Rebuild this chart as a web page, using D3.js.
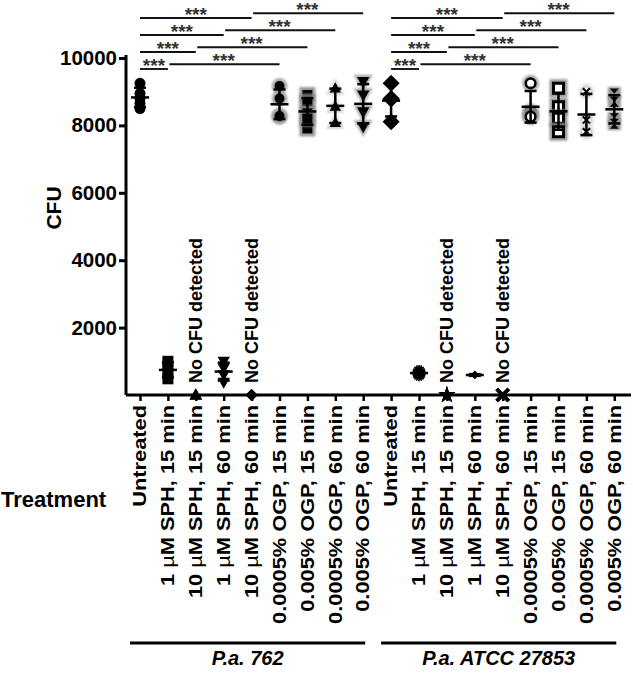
<!DOCTYPE html>
<html><head><meta charset="utf-8">
<script src="https://cdn.jsdelivr.net/npm/d3@7"></script>
<style>
html,body{margin:0;padding:0;background:#fff;}
svg{display:block;font-family:"Liberation Sans",Arial,sans-serif;}
</style></head>
<body><svg id="chart" width="633" height="673"></svg>
<script>
// ---------- data ----------
const groups = ["P.a. 762", "P.a. ATCC 27853"];
const treatments = ["Untreated", "1 µM SPH, 15 min", "10 µM SPH, 15 min", "1 µM SPH, 60 min", "10 µM SPH, 60 min",
  "0.0005% OGP, 15 min", "0.005% OGP, 15 min", "0.0005% OGP, 60 min", "0.005% OGP, 60 min"];
const pa762Values = [
  [9250, 8950, 8650, 8500, 8800],
  [1000, 850, 650, 480],
  [0, 0, 0],
  [1000, 800, 600, 380],
  [0, 0, 0],
  [9170, 8800, 8260, 8280],
  [8900, 8700, 8360, 7910, 8200],
  [9100, 8560, 8080],
  [9300, 8900, 8400, 7960]
];
const atccValues = [
  [9250, 8780, 8110, 8800],
  [700, 650, 600],
  [0, 0, 0],
  [620, 590, 570],
  [0, 0, 0],
  [9250, 8400, 8300, 8260],
  [9100, 8550, 8210, 7810],
  [9000, 8160, 7810],
  [8950, 8700, 8210, 8050]
];
const pa762Markers = ["circle", "square", "triUp", "triDown", "diamond", "circleHalo", "squareHalo", "triUpHalo", "triDownHalo"];
const atccMarkers = ["diamondBig", "asterisk", "star", "smallCross", "times", "openCircle", "openSquare", "circleX", "bowtie"];
const noCfuIdx = [2, 4];
const sigPairs = [[0, 1], [1, 5], [0, 2], [2, 6], [0, 3], [3, 7], [0, 4], [4, 8]];
const sigLabel = "***";
const yTicks = [2000, 4000, 6000, 8000, 10000];

// ---------- layout ----------
const svg = d3.select("#chart");
const font = '"Liberation Sans", Arial, sans-serif';
const nCat = treatments.length * groups.length;
const x = d3.scalePoint().domain(d3.range(nCat)).range([140, 614.3]);
const y = d3.scaleLinear().domain([0, 10000]).range([395, 58]);

const defs = svg.append("defs");
defs.append("filter").attr("id", "blur").attr("x", "-50%").attr("y", "-50%").attr("width", "200%").attr("height", "200%")
  .append("feGaussianBlur").attr("stdDeviation", 1.2);

// ---------- axes ----------
const yAxis = svg.append("g").attr("transform", "translate(126,0)")
  .call(d3.axisLeft(y).tickValues(yTicks).tickSize(7).tickFormat(d3.format("d")));
yAxis.select(".domain").attr("d", `M0,${y(10000) - 3}V${y(0)}`).attr("stroke", "#000").attr("stroke-width", 3);
yAxis.selectAll(".tick line").attr("stroke", "#000").attr("stroke-width", 3);
yAxis.selectAll(".tick text").attr("font-family", font).attr("font-size", 20.5).attr("font-weight", "bold")
  .attr("fill", "#000").attr("x", -9);

const xAxis = svg.append("g").attr("transform", `translate(0,${y(0)})`)
  .call(d3.axisBottom(x).tickSize(6).tickFormat(""));
xAxis.select(".domain").attr("d", "M126,0H631").attr("stroke", "#000").attr("stroke-width", 3);
xAxis.selectAll(".tick line").attr("stroke", "#000").attr("stroke-width", 2.5);

// x tick labels
const allLabels = groups.flatMap(() => treatments);
allLabels.forEach((lab, i) => {
  const t = svg.append("text")
    .attr("transform", `translate(${x(i)},405) rotate(-90) scale(1,0.8)`)
    .attr("text-anchor", "end").attr("dy", "0.36em")
    .attr("font-family", font).attr("font-size", 21.8).attr("font-weight", "bold");
  const parts = lab.split("µ");
  t.append("tspan").text(parts[0]);
  if (parts.length > 1) {
    t.append("tspan").attr("font-weight", "normal").text("µ");
    t.append("tspan").text(parts[1]);
  }
});

svg.append("text").attr("transform", "translate(53,208) rotate(-90)").attr("text-anchor", "middle")
  .attr("dy", "0.36em").attr("font-family", font).attr("font-size", 21).attr("font-weight", "bold").text("CFU");
svg.append("text").attr("x", 1).attr("y", 507).attr("font-family", font).attr("font-size", 22)
  .attr("font-weight", "bold").text("Treatment");

// group lines + labels
groups.forEach((g, gi) => {
  const i0 = gi * treatments.length, i1 = i0 + treatments.length - 1;
  const x0 = x(i0) - 10, x1 = x(i1) + 2;
  svg.append("line").attr("x1", x0).attr("x2", x1).attr("y1", 643).attr("y2", 643)
    .attr("stroke", "#000").attr("stroke-width", 3);
  svg.append("text").attr("x", (x0 + x1) / 2).attr("y", 665).attr("text-anchor", "middle")
    .attr("font-family", font).attr("font-size", 20).attr("font-weight", "bold").attr("font-style", "italic").text(g);
});

// ---------- marker shapes ----------
function poly(pts) { return "M" + pts.map(p => p.join(",")).join("L") + "Z"; }
function circ(r) { return `M${-r},0a${r},${r} 0 1,0 ${2 * r},0a${r},${r} 0 1,0 ${-2 * r},0Z`; }
function sq(h) { return `M${-h},${-h}H${h}V${h}H${-h}Z`; }
function triU(s) { return poly([[0, -s], [s * 0.95, s * 0.7], [-s * 0.95, s * 0.7]]); }
function triD(s) { return poly([[0, s], [s * 0.95, -s * 0.7], [-s * 0.95, -s * 0.7]]); }
function dia(s) { return poly([[0, -s], [s, 0], [0, s], [-s, 0]]); }

function drawMarker(g, type, cx, cy) {
  const m = g.append("g").attr("transform", `translate(${cx},${cy})`);
  const halo = (d, col, op) => m.append("path").attr("d", d).attr("fill", col).attr("stroke", col)
    .attr("stroke-width", 3).attr("opacity", op).attr("filter", "url(#blur)");
  switch (type) {
    case "circle": m.append("path").attr("d", circ(5.5)); break;
    case "square": m.append("path").attr("d", sq(5.5)); break;
    case "triUp": m.append("path").attr("d", triU(6.5)); break;
    case "triDown": m.append("path").attr("d", triD(6.5)); break;
    case "diamond": m.append("path").attr("d", dia(6)); break;
    case "circleHalo": halo(circ(6.5), "#999", 0.8); m.append("path").attr("d", circ(5)); break;
    case "squareHalo": halo(sq(6.5), "#888", 0.85); m.append("path").attr("d", sq(5)); break;
    case "triUpHalo": halo(triU(7), "#ccc", 0.8); m.append("path").attr("d", triU(6)); break;
    case "triDownHalo": halo(triD(7.5), "#999", 0.8); m.append("path").attr("d", triD(6.5)); break;
    case "diamondBig": m.append("path").attr("d", dia(8.5)); break;
    case "asterisk":
      d3.range(8).forEach(k => {
        const a = k * Math.PI / 8;
        m.append("line").attr("x1", -6.5 * Math.cos(a)).attr("y1", -6.5 * Math.sin(a))
          .attr("x2", 6.5 * Math.cos(a)).attr("y2", 6.5 * Math.sin(a)).attr("stroke", "#000").attr("stroke-width", 1.6);
      });
      m.append("path").attr("d", circ(2.8));
      break;
    case "star": m.append("path").attr("d", d3.symbol(d3.symbolStar, 90)()); break;
    case "smallCross": m.append("path").attr("d", dia(3.5)); break;
    case "times":
      m.append("path").attr("d", "M-6,-6L6,6M6,-6L-6,6").attr("stroke", "#000").attr("stroke-width", 3.5).attr("fill", "none");
      break;
    case "openCircle":
      halo(circ(7), "#999", 0.8);
      m.append("path").attr("d", circ(4.8)).attr("fill", "#fff").attr("stroke", "#000").attr("stroke-width", 2.5);
      break;
    case "openSquare":
      halo(sq(7.5), "#888", 0.85);
      m.append("path").attr("d", sq(5)).attr("fill", "#fff").attr("stroke", "#000").attr("stroke-width", 3);
      break;
    case "circleX":
      halo(circ(6.5), "#ddd", 0.8);
      m.append("path").attr("d", circ(5)).attr("fill", "#fff").attr("stroke", "#ccc").attr("stroke-width", 1.5);
      m.append("path").attr("d", "M-3.5,-3.5L3.5,3.5M3.5,-3.5L-3.5,3.5").attr("stroke", "#000").attr("stroke-width", 2.2);
      break;
    case "bowtie":
      m.append("path").attr("d", sq(6.5)).attr("fill", "#999").attr("filter", "url(#blur)");
      m.append("path").attr("d", poly([[-4.5, -5], [4.5, -5], [0, 0]]));
      m.append("path").attr("d", poly([[-4.5, 5], [4.5, 5], [0, 0]]));
      break;
  }
  m.selectAll("path:not([fill])").attr("fill", "#000");
}

// ---------- data marks ----------
const plot = svg.append("g");
const series = [pa762Values, atccValues];
const markers = [pa762Markers, atccMarkers];
series.forEach((vals, gi) => {
  vals.forEach((arr, ti) => {
    const idx = gi * treatments.length + ti;
    const cx = x(idx);
    arr.forEach(v => drawMarker(plot, markers[gi][ti], cx, y(v)));
    const mean = d3.mean(arr);
    if (mean > 0) {
      const sd = d3.deviation(arr);
      const eb = plot.append("g").attr("stroke", "#000").attr("stroke-width", 2.5);
      eb.append("line").attr("x1", cx).attr("x2", cx).attr("y1", y(mean + sd)).attr("y2", y(mean - sd));
      eb.append("line").attr("x1", cx - 6).attr("x2", cx + 6).attr("y1", y(mean + sd)).attr("y2", y(mean + sd));
      eb.append("line").attr("x1", cx - 6).attr("x2", cx + 6).attr("y1", y(mean - sd)).attr("y2", y(mean - sd));
      eb.append("line").attr("x1", cx - 9).attr("x2", cx + 9).attr("y1", y(mean)).attr("y2", y(mean));
    }
  });
  noCfuIdx.forEach(ti => {
    const idx = gi * treatments.length + ti;
    svg.append("text").attr("transform", `translate(${x(idx)},383) rotate(-90)`)
      .attr("dy", "0.36em").attr("font-family", font).attr("font-size", 18).attr("font-weight", "bold")
      .text("No CFU detected");
  });
});

// ---------- significance brackets ----------
groups.forEach((g, gi) => {
  const off = gi * treatments.length;
  sigPairs.forEach((p, k) => {
    const level = Math.floor(k / 2);
    const ly = 69 - level * 17 - (k % 2) * 4.7;
    const x1 = x(off + p[0]), x2 = x(off + p[1]);
    svg.append("line").attr("x1", x1 + (k % 2 ? 1.5 : 0)).attr("x2", x2).attr("y1", ly).attr("y2", ly)
      .attr("stroke", "#111").attr("stroke-width", 1.9);
    svg.append("text").attr("x", (x1 + x2) / 2).attr("y", ly + 2.5).attr("text-anchor", "middle")
      .attr("font-family", font).attr("font-size", 19).attr("font-weight", "bold").attr("fill", "#333").text(sigLabel);
  });
});
</script></body></html>
